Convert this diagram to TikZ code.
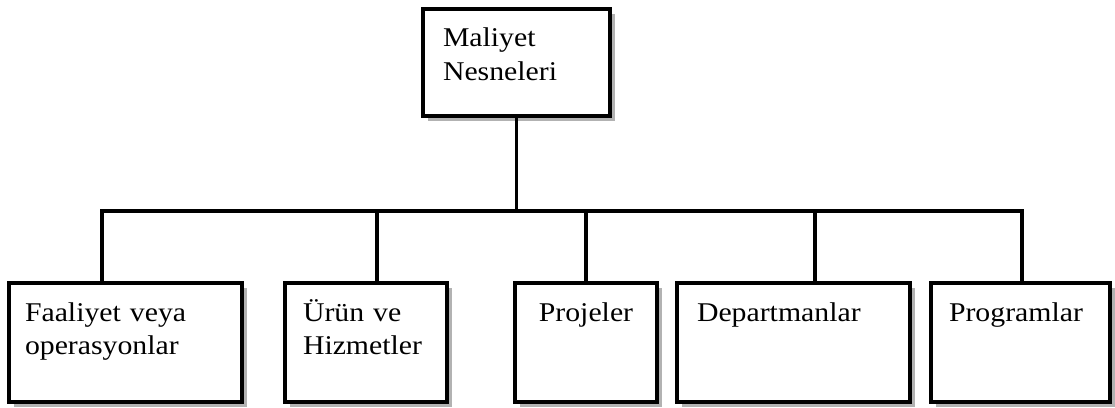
\documentclass[tikz,border=0pt]{standalone}
\usepackage{fontspec}
\setmainfont{Liberation Serif}[FakeStretch=1.1]
\usepackage{tikz}
\usetikzlibrary{calc,shadows}
\newcommand{\costfont}{\fontsize{7.7}{9.4}\selectfont}

\begin{document}
\begin{tikzpicture}[
  box/.style={draw,fill=white,line width=1pt,outer sep=0pt,anchor=north west,
    inner xsep=0.18cm,inner ysep=0pt,align=left,font=\costfont,
    text height=0.38cm,text depth=0.81cm,
    drop shadow={shadow xshift=1.4pt,shadow yshift=-1.4pt,fill=gray!60,opacity=1}},
  conn/.style={line width=1pt}]
\useasboundingbox (0,0) rectangle (11.15,4.07);
% root box
\node[box,inner xsep=0.2cm,text width=1.47cm,text depth=0.69cm] (cost) at (4.23,3.98) {Maliyet\\Nesneleri};
% the five kinds of cost object
\node[box,inner xsep=0.16cm,text width=2.01cm] (act)  at (0.09,1.24) {Faaliyet veya\\operasyonlar};
\node[box,text width=1.26cm] (prod) at (2.85,1.24) {Ürün ve\\Hizmetler};
\node[box,text width=1.06cm,align=center] (proj) at (5.15,1.24) {Projeler};
\node[box,inner xsep=0.2cm,text width=1.93cm] (dept) at (6.77,1.24) {Departmanlar};
\node[box,text width=1.43cm] (prog) at (9.31,1.24) {Programlar};
% bus line and drops
\coordinate (bus) at (0,1.96);
\foreach \n/\f in {act/.40,prod/.568,proj/.5,dept/.592,prog/.508}
  \coordinate (d-\n) at ($(\n.north west)!\f!(\n.north east)$);
\draw[conn] (cost.south) -- (cost.south |- bus);
\draw[conn] (d-act) -- (d-act |- bus) -- (d-prog |- bus) -- (d-prog);
\foreach \n in {prod,proj,dept}
  \draw[conn] (d-\n) -- (d-\n |- bus);
\end{tikzpicture}
\end{document}
